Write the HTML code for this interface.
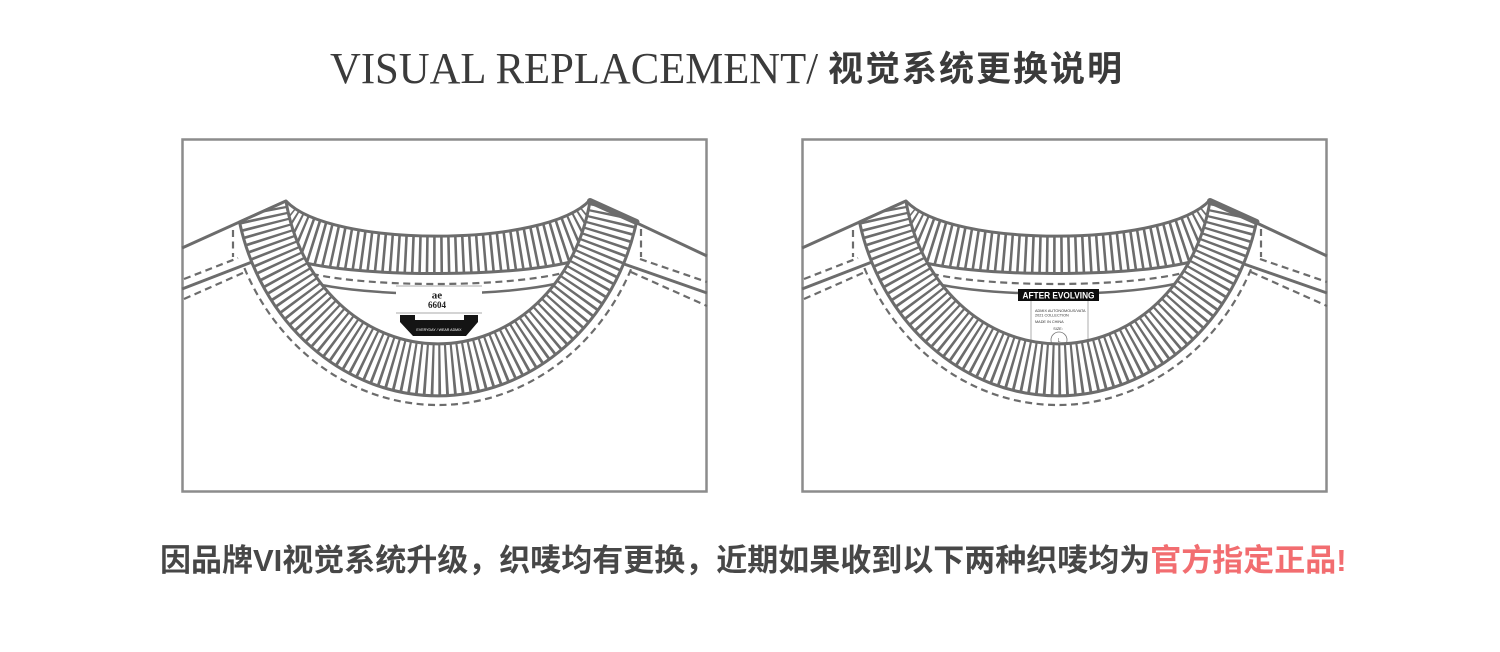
<!DOCTYPE html>
<html>
<head>
<meta charset="utf-8">
<style>
  html,body{margin:0;padding:0;background:#fff;}
  body{width:1500px;height:652px;position:relative;overflow:hidden;}
  .t1{position:absolute;left:330px;top:46.6px;font-family:"Liberation Serif",serif;font-size:44px;line-height:44px;color:#3b3b3b;white-space:nowrap;transform:scaleX(0.97);transform-origin:0 0;}
  .t2{position:absolute;left:828px;top:51.5px;font-family:"Liberation Sans","Noto Sans CJK SC",sans-serif;font-size:35px;line-height:35px;letter-spacing:2px;font-weight:bold;color:#3b3b3b;white-space:nowrap;}
  .bt{position:absolute;left:160px;top:544.5px;font-family:"Liberation Sans","Noto Sans CJK SC",sans-serif;font-size:31px;line-height:31px;font-weight:bold;color:#474747;white-space:nowrap;}
  .bt .r{color:#f26d70;}
</style>
</head>
<body>
<svg width="1500" height="652" viewBox="0 0 1500 652" style="position:absolute;left:0;top:0">
  <defs>
    <clipPath id="cb"><path d="M286,201 C330,248 546,248 590,200 L594,206 L588,256 C540,279 340,279 290,258 Z"/></clipPath>
    <clipPath id="cf"><path d="M239.5,222 L286,201 A154.5,174 0 0 0 590,201 L636.5,222 A204,226 0 0 1 239.5,222 Z"/></clipPath>
    <g id="back" fill="none" stroke="#6c6c6c">
      <path d="M182,248 L286,201" stroke-width="3"/>
      <path d="M590,201 L707,256" stroke-width="3"/>
      <path d="M182,289 L252,262" stroke-width="3"/>
      <path d="M624,264 L707,293" stroke-width="3"/>
      <g stroke-width="2.2" stroke-dasharray="7 4.5">
        <path d="M184,279 L238,258"/>
        <path d="M233,230 L233,257"/>
        <path d="M184,299 L245,272"/>
        <path d="M640,259 L707,282"/>
        <path d="M641,229 L641,257"/>
        <path d="M631,272 L707,306"/>
      </g>
      <path d="M280,226 C330,268 546,268 596,224" stroke-width="50" stroke-dasharray="2.6 4.6" clip-path="url(#cb)"/>
      <path d="M286,201 C330,248 546,248 590,200" stroke-width="3"/>
      <path d="M290,258 C340,279 540,279 588,256" stroke-width="3"/>
      <path d="M290,267 C340,290 540,290 586,265" stroke-width="2.2" stroke-dasharray="7 4.5"/>
      <path d="M292,276 C340,300 540,300 584,274" stroke-width="2.5"/>
    </g>
    <g id="front">
      <path d="M239.5,222 L286,201 A154.5,174 0 0 0 590,201 L636.5,222 A204,226 0 0 1 239.5,222 Z" fill="#fff" stroke="none"/>
      <path d="M259.6,190 A179.25,200 0 0 0 616.4,190" fill="none" stroke="#6c6c6c" stroke-width="60" stroke-dasharray="2.5 4.3" clip-path="url(#cf)"/>
      <path d="M239.5,222 L286,201 A154.5,174 0 0 0 590,201 L636.5,222 A204,226 0 0 1 239.5,222 Z" fill="none" stroke="#6c6c6c" stroke-width="3" stroke-linejoin="round"/>
      <path d="M590,201 L636.5,222" stroke="#6c6c6c" stroke-width="6" stroke-linecap="round"/>
      <path d="M244.4,268 A213,235 0 0 0 631.6,268" fill="none" stroke="#6c6c6c" stroke-width="2.2" stroke-dasharray="7 4.5"/>
    </g>
  </defs>

  <!-- panel borders -->
  <rect x="182.5" y="139.5" width="524" height="352" fill="none" stroke="#8c8c8c" stroke-width="2.5"/>
  <rect x="802.5" y="139.5" width="524" height="352" fill="none" stroke="#8c8c8c" stroke-width="2.5"/>

  <!-- back parts -->
  <use href="#back"/>
  <use href="#back" x="620"/>

  <!-- left label -->
  <rect x="396" y="286" width="86" height="27" fill="#fff"/>
  <line x1="396" y1="286" x2="482" y2="286" stroke="#aaa" stroke-width="1"/>
  <line x1="396" y1="313" x2="482" y2="313" stroke="#aaa" stroke-width="1"/>
  <text x="437" y="298.5" font-family="Liberation Serif, serif" font-weight="bold" font-size="11" text-anchor="middle" fill="#222">ae</text>
  <text x="437" y="308" font-family="Liberation Serif, serif" font-weight="bold" font-size="9" text-anchor="middle" fill="#222">6604</text>
  <polygon points="400,315 415,315 415,320 464,320 464,315 478,315 478,322 466,336 413,336 400,322" fill="#141414"/>
  <text x="439" y="331" font-family="Liberation Sans, sans-serif" font-size="3.6" text-anchor="middle" fill="#fff">EVERYDAY / WEAR ADMIX</text>

  <!-- right label -->
  <rect x="1031" y="296" width="57" height="70" fill="#fff" stroke="#9a9a9a" stroke-width="0.8"/>
  <rect x="1018" y="289" width="81" height="12" fill="#0d0d0d"/>
  <text x="1058.5" y="298.7" fill="#fff" font-family="Liberation Sans, sans-serif" font-size="9.5" font-weight="bold" text-anchor="middle" textLength="72" lengthAdjust="spacingAndGlyphs">AFTER EVOLVING</text>
  <text x="1035" y="312" font-family="Liberation Sans, sans-serif" font-size="3.8" fill="#333">ADMIX AUTONOMOUS/VATA</text>
  <text x="1035" y="316.5" font-family="Liberation Sans, sans-serif" font-size="3.8" fill="#333">2021 COLLECTION</text>
  <text x="1035" y="323" font-family="Liberation Sans, sans-serif" font-size="3.8" fill="#333">MADE IN CHINA</text>
  <text x="1058" y="330" font-family="Liberation Sans, sans-serif" font-size="3.8" text-anchor="middle" fill="#333">SIZE:</text>
  <circle cx="1059" cy="340" r="8" fill="#fff" stroke="#777" stroke-width="0.8"/>
  <text x="1059" y="342" font-family="Liberation Sans, sans-serif" font-size="5" text-anchor="middle" fill="#555">L</text>

  <!-- front ribs -->
  <use href="#front"/>
  <use href="#front" x="620"/>
</svg>

<div class="t1">VISUAL REPLACEMENT/</div>
<div class="t2">视觉系统更换说明</div>
<div class="bt">因品牌VI视觉系统升级，织唛均有更换，近期如果收到以下两种织唛均为<span class="r">官方指定正品!</span></div>
</body>
</html>
